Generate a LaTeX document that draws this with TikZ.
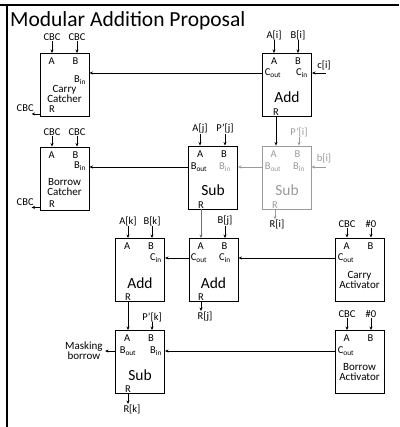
\documentclass[tikz,border=0pt]{standalone}
\usepackage{fontspec}
\setmainfont{Carlito}
\usetikzlibrary{arrows.meta}
\definecolor{ghost}{HTML}{9A9A9A}
\definecolor{midgray}{HTML}{707070}

\tikzset{
  unit/.style={draw, line width=0.9pt, minimum width=49pt, minimum height=63pt, inner sep=0pt},
  port/.style={inner sep=0pt, font=\fontsize{10.5}{11}\selectfont},
  inlab/.style={inner sep=0.5pt, font=\fontsize{10.5}{11}\selectfont},
  opname/.style={inner sep=0pt, font=\fontsize{15.5}{16}\selectfont},
  boxname/.style={inner sep=0pt, align=center, font=\fontsize{11}{10}\selectfont},
  wire/.style={line width=0.8pt, ->, >={Stealth[length=3.5pt,width=3pt]}},
}

\begin{document}
\begin{tikzpicture}[x=1pt, y=-1pt]
\useasboundingbox (0,0) rectangle (399,427);
\draw[line width=1.3pt] (0,5) -- (399,5);
\draw[line width=1.3pt] (7,5) -- (7,427);
\node[anchor=base west, inner sep=0pt, font=\fontsize{21.5}{24}\selectfont] (title) at (10,27) {Modular Addition Proposal};

% the units
\node[unit] (cc) at (64.5,85) {};
\node[unit] (addi) at (287,85) {};
\node[unit] (bc) at (64.5,178.5) {};
\node[unit] (subj) at (213,177.5) {};
\node[unit, draw=ghost] (subi) at (286.5,177.5) {};
\node[unit] (addk) at (140,270) {};
\node[unit] (addj) at (213.5,270) {};
\node[unit] (ca) at (359.5,269.5) {};
\node[unit] (subk) at (140,362) {};
\node[unit] (ba) at (359.5,362) {};

\foreach \u in {cc,addi,bc,subj,addk,addj,ca,subk,ba}{
  \node[port] (\u A) at ([shift={(12,8.5)}]\u.north west) {A};
  \node[port] (\u B) at ([shift={(36,8.5)}]\u.north west) {B};
}
\node[port, text=ghost] (subiA) at ([shift={(12,8.5)}]subi.north west) {A};
\node[port, text=ghost] (subiB) at ([shift={(36,8.5)}]subi.north west) {B};

% second row of ports
\node[port] (ccbi) at (80,80) {B\textsubscript{in}};
\node[port] (addico) at (273,73) {C\textsubscript{out}};
\node[port] (addici) at (302,73) {C\textsubscript{in}};
\node[port] (bcbi) at (80,166) {B\textsubscript{in}};
\node[port] (subjbo) at (199,167) {B\textsubscript{out}};
\node[port, text=ghost] (subjbi) at (225,167) {B\textsubscript{in}};
\node[port, text=ghost] (subibo) at (273,167) {B\textsubscript{out}};
\node[port, text=ghost] (subibi) at (299,167) {B\textsubscript{in}};
\node[port] (addkci) at (156,258) {C\textsubscript{in}};
\node[port] (addjco) at (199,258) {C\textsubscript{out}};
\node[port] (addjci) at (225,258) {C\textsubscript{in}};
\node[port] (caco) at (346,258) {C\textsubscript{out}};
\node[port] (subkbo) at (128,351) {B\textsubscript{out}};
\node[port] (subkbi) at (156,351) {B\textsubscript{in}};
\node[port] (baco) at (346,351) {C\textsubscript{out}};

% result ports
\node[port] (ccR) at (52,109.5) {R};
\node[port] (bcR) at (52,204) {R};
\node[port] (addiR) at (276,112) {R};
\node[port] (subjR) at (201,205) {R};
\node[port, text=ghost] (subiR) at (275,205) {R};
\node[port] (addkR) at (128,297) {R};
\node[port] (addjR) at (201,297) {R};
\node[port] (subkR) at (128,389) {R};

% names
\node[boxname] (ccname) at (64.5,93.5) {Carry\\Catcher};
\node[opname] (addiname) at (287,97) {Add};
\node[boxname] (bcname) at (64.5,187) {Borrow\\Catcher};
\node[opname] (subjname) at (213,190) {Sub};
\node[opname, text=ghost] (subiname) at (287,190) {Sub};
\node[opname] (addkname) at (140,283) {Add};
\node[opname] (addjname) at (213.5,283) {Add};
\node[boxname] (caname) at (359.5,279.5) {Carry\\Activator};
\node[opname] (subkname) at (140,375) {Sub};
\node[boxname] (baname) at (359.5,372) {Borrow\\Activator};

% inputs
\foreach \x/\y/\t/\u in {52/37/CBC/cc, 77/37/CBC/cc, 274/35/A[i]/addi, 298/35/B[i]/addi,
    52/132/CBC/bc, 77/132/CBC/bc, 200/129/A[j]/subj, 225/129/P'[j]/subj,
    128/221/A[k]/addk, 152/221/B[k]/addk, 225/221/B[j]/addj,
    347/224/CBC/ca, 371/224/\#0/ca, 152/317/P'[k]/subk, 347/314/CBC/ba, 371/314/\#0/ba}{
  \node[inlab] (in-\u-\x) at (\x,\y) {\t};
  \draw[wire] (in-\u-\x.south) -- (in-\u-\x.south |- \u.north);
}
\node[inlab, text=ghost] (in-subi) at (299,132) {P'[i]};
\draw[wire, ghost] (in-subi.south) -- (in-subi.south |- subi.north);

\coordinate (ciin) at (326,73);
\node[inlab] (cilab) at (324,65) {c[i]};
\draw[wire] (ciin) -- (addi.east |- ciin);
\coordinate (biin) at (326,167);
\node[inlab, text=ghost] (bilab) at (324,158) {b[i]};
\draw[wire, ghost] (biin) -- (subi.east |- biin);

% connections
\draw[wire] (addi.west |- addico) -- (cc.east |- addico);
\draw[wire] (addiR |- addi.south) -- (addiR |- subi.north);
\draw[wire, ghost] (subi.west |- subibo) -- (subj.east |- subibo);
\draw[wire] (subj.west |- subjbo) -- (bc.east |- subjbo);
\draw[wire, midgray] (subjR |- subj.south) -- (subjR |- addj.north);
\draw[wire] (addj.west |- addjco) -- (addk.east |- addjco);
\draw[wire] (ca.west |- caco) -- (addj.east |- caco);
\draw[wire] (addkR |- addk.south) -- (addkR |- subk.north);
\draw[wire] (ba.west |- baco) -- (subk.east |- baco);

% outputs
\draw[wire] ([yshift=3pt]cc.south west) -- ++(-8,0) node[inlab, above left, xshift=3pt, yshift=1pt] (ccout) {CBC};
\draw[wire] ([yshift=3pt]bc.south west) -- ++(-8,0) node[inlab, above left, xshift=3pt, yshift=1pt] (bcout) {CBC};
\draw[wire] (subk.west |- subkbo) -- ++(-10,0) node[boxname, left, inner sep=2pt] (mask) {Masking\\borrow};
\draw[wire, ghost] (subiR |- subi.south) -- ++(0,10) node[inlab, below, xshift=2pt, text=black] (ri) {R[i]};
\draw[wire] (addjR |- addj.south) -- ++(0,9) node[inlab, below, xshift=4pt] (rj) {R[j]};
\draw[wire] (subkR |- subk.south) -- ++(0,10) node[inlab, below, xshift=4pt] (rk) {R[k]};
\end{tikzpicture}
\end{document}
